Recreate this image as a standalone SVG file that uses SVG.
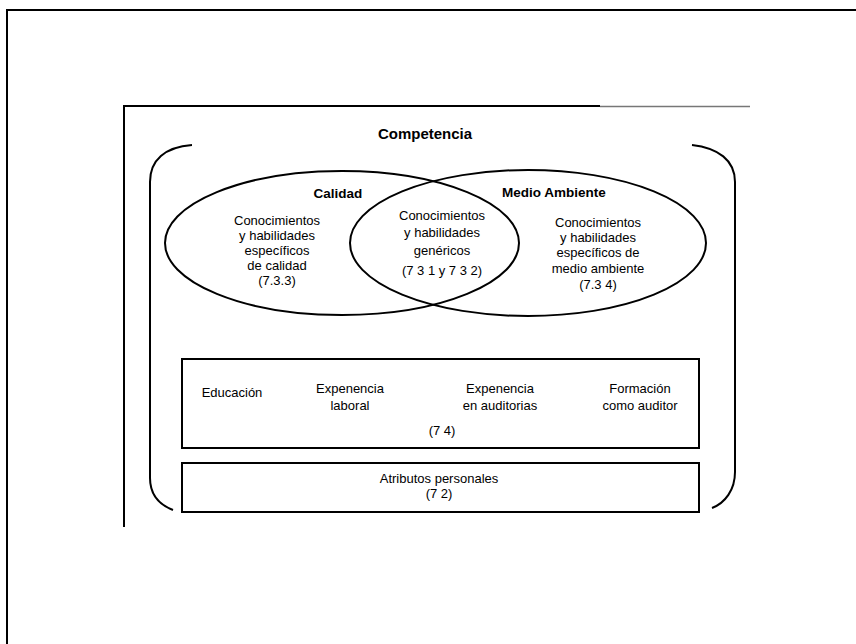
<svg xmlns="http://www.w3.org/2000/svg" width="856" height="644" viewBox="0 0 856 644">
<style>
.ln{fill:none;stroke:#000;stroke-width:2}
.t{font-family:"Liberation Sans",Arial,sans-serif;font-size:13px;fill:#000;text-anchor:middle}
.b{font-weight:bold;font-size:13.5px}
.h{font-weight:bold;font-size:15px}
</style>
<rect width="856" height="644" fill="#fff"/>
<g id="frame">
<line class="ln" x1="6" y1="10" x2="856" y2="10"/>
<line class="ln" x1="7" y1="10" x2="7" y2="644"/>
<line class="ln" x1="123" y1="106" x2="600" y2="106"/>
<line x1="600" y1="106.5" x2="750" y2="106.5" stroke="#777" stroke-width="1.5"/>
<line class="ln" x1="124" y1="106" x2="124" y2="527"/>
</g>
<g id="competencia">
<text class="t h" x="425" y="139">Competencia</text>
<path class="ln" d="M192,145 C165,147 150,160 150,182 L150,478 C150,495 160,505 173,510"/>
<path class="ln" d="M692,145 C718,148 735,160 735,182 L735,472 C735,490 725,503 712,508"/>
</g>
<g id="calidad">
<ellipse class="ln" cx="342" cy="243" rx="177" ry="72"/>
<text class="t b" x="338" y="198">Calidad</text>
<text class="t" x="277" y="225">Conocimientos</text>
<text class="t" x="277" y="240">y habilidades</text>
<text class="t" x="277" y="255">específicos</text>
<text class="t" x="277" y="270">de calidad</text>
<text class="t" x="277" y="285">(7.3.3)</text>
</g>
<g id="medio-ambiente">
<ellipse class="ln" cx="528" cy="243" rx="178" ry="73"/>
<text class="t b" x="554" y="197">Medio Ambiente</text>
<text class="t" x="598" y="227">Conocimientos</text>
<text class="t" x="598" y="242">y habilidades</text>
<text class="t" x="598" y="257">específicos de</text>
<text class="t" x="598" y="273">medio ambiente</text>
<text class="t" x="598" y="289">(7.3 4)</text>
</g>
<g id="genericos">
<text class="t" x="442" y="220">Conocimientos</text>
<text class="t" x="442" y="237">y habilidades</text>
<text class="t" x="442" y="255">genéricos</text>
<text class="t" x="442" y="275">(7 3 1 y 7 3 2)</text>
</g>
<g id="experiencia">
<rect class="ln" x="182" y="359" width="517" height="89"/>
<text class="t" x="232" y="397">Educación</text>
<text class="t" x="350" y="393">Expenencia</text>
<text class="t" x="350" y="410">laboral</text>
<text class="t" x="500" y="393">Expenencia</text>
<text class="t" x="500" y="410">en auditorias</text>
<text class="t" x="640" y="393">Formación</text>
<text class="t" x="640" y="410">como auditor</text>
<text class="t" x="442" y="435">(7 4)</text>
</g>
<g id="atributos">
<rect class="ln" x="182" y="463" width="517" height="49"/>
<text class="t" x="439" y="483">Atributos personales</text>
<text class="t" x="439" y="498">(7 2)</text>
</g>
<g id="connectors"></g>
</svg>
